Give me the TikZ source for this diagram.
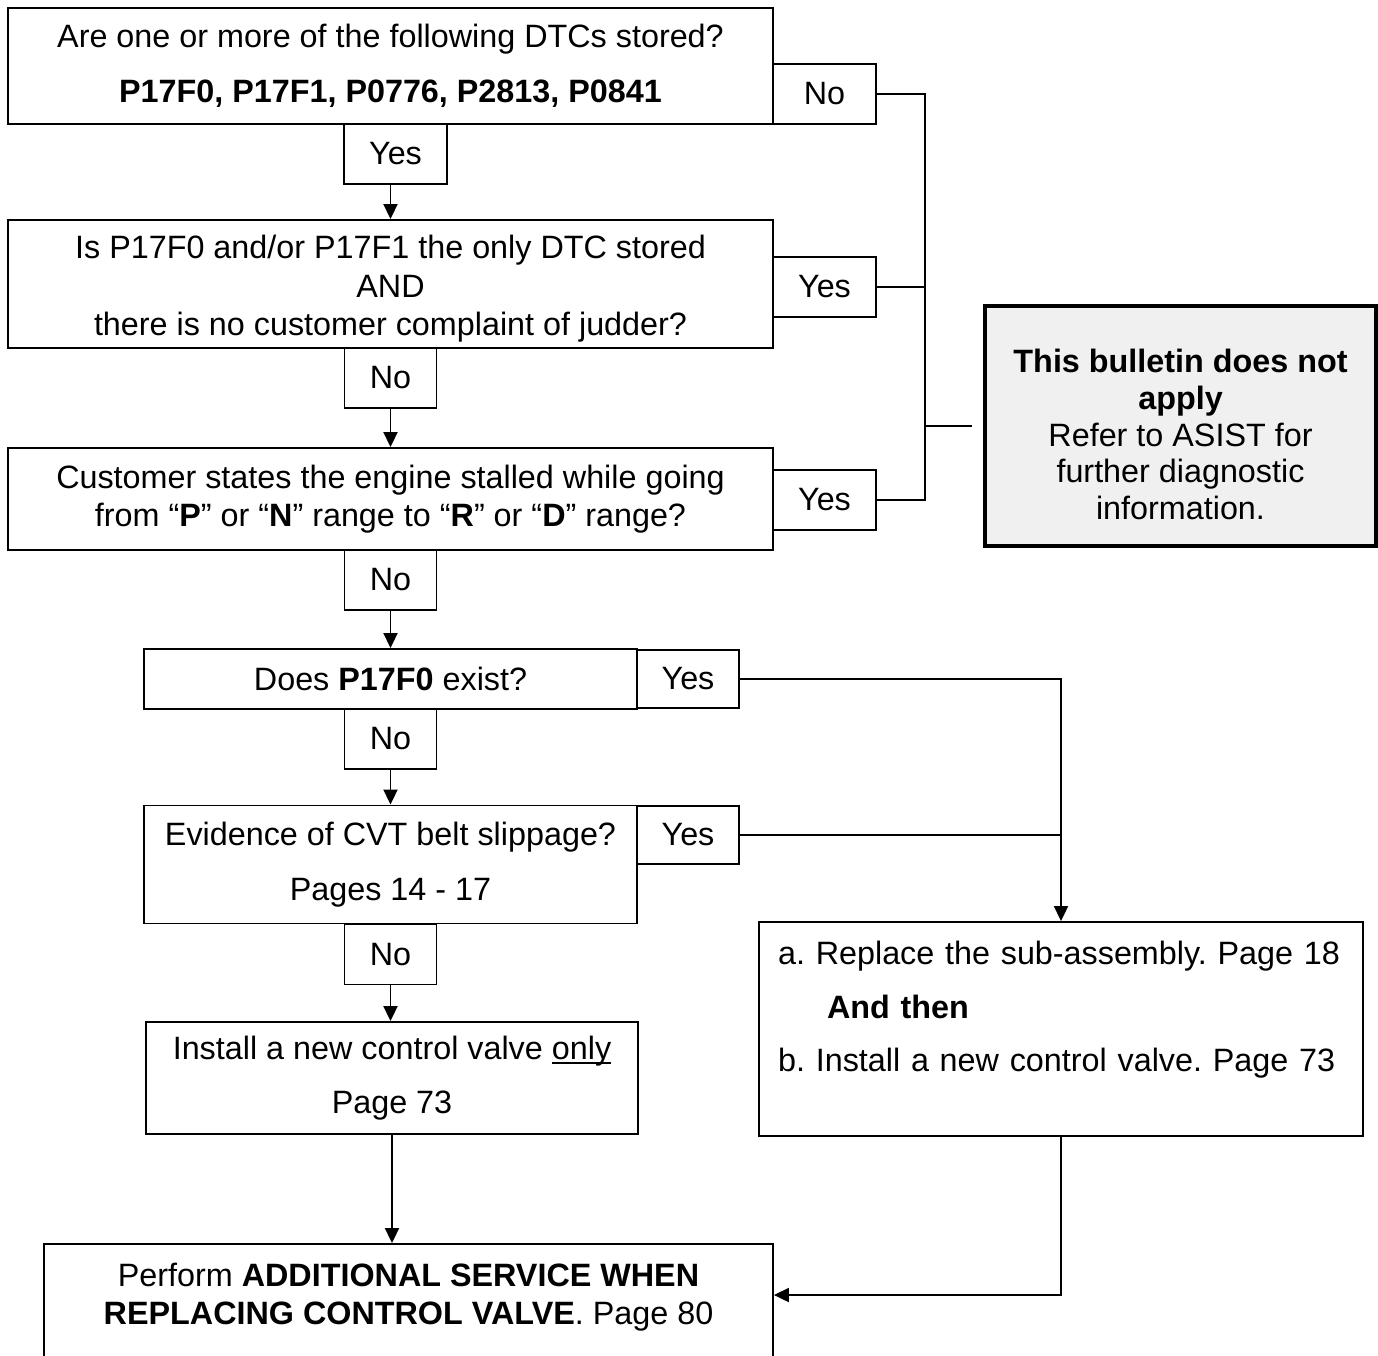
\documentclass[tikz,border=0pt]{standalone}
\usepackage{fontspec}
\setmainfont{Liberation Sans}
\usetikzlibrary{arrows.meta}
\newcommand{\wordline}[1]{\setbox0\hbox{#1}\rlap{\rule[-2.6pt]{\wd0}{0.9pt}}#1}

\begin{document}
\begin{tikzpicture}[
		x=0.02cm, y=-0.02cm,
		line width=1.1pt,
		font=\fontsize{18.4}{22}\selectfont\frenchspacing,
		>={Triangle[length=3mm, width=2.8mm]},
		every node/.style={align=center, inner sep=0pt},
		qbox/.style={draw, minimum width=15.3cm},
		ans/.style={draw, minimum width=2.06cm, minimum height=1.2cm},
		nans/.style={ans, minimum width=1.84cm},
		sans/.style={ans, minimum width=2.04cm, minimum height=1.16cm}
	]
	\useasboundingbox (0,0) rectangle (1378,1355);

	\node[qbox, minimum height=2.32cm] (dtc) at (390.5,66) {Are one or more of the following DTCs stored?\\[0.32cm]\textbf{P17F0, P17F1, P0776, P2813, P0841}};
	\node[ans] (dtcno) at (824.5,94) {No};
	\node[ans] (dtcyes) at (395.5,154) {Yes};
	\node[qbox, minimum height=2.56cm] (only) at (390.5,284) {\rule{0pt}{19pt}Is P17F0 and/or P17F1 the only DTC stored\\AND\\there is no customer complaint of judder?};
	\node[ans] (onlyyes) at (824.5,287) {Yes};
	\node[nans] (onlyno) at (390.5,378) {No};
	\node[qbox, minimum height=2.04cm] (stall) at (390.5,499) {Customer states the engine stalled while going\\from “\textbf{P}” or “\textbf{N}” range to “\textbf{R}” or “\textbf{D}” range?};
	\node[ans] (stallyes) at (824.5,500) {Yes};
	\node[nans] (stallno) at (390.5,580) {No};
	\node[draw, line width=2.2pt, fill=black!6, minimum width=7.82cm, minimum height=4.8cm, font=\fontsize{18.4}{20.8}\selectfont] (notapply) at (1180.5,426) {\rule{0pt}{23pt}\textbf{This bulletin does not}\\\textbf{apply}\\Refer to ASIST for\\further diagnostic\\information.};

	\node[draw, minimum width=9.86cm, minimum height=1.2cm] (exist) at (390.5,679) {Does \textbf{P17F0} exist?};
	\node[sans] (existyes) at (688,679) {Yes};
	\node[nans] (existno) at (390.5,739) {No};
	\node[draw, minimum width=9.86cm, minimum height=2.36cm] (slip) at (390.5,864.5) {Evidence of CVT belt slippage?\\[0.32cm]Pages 14 - 17};
	\node[sans] (slipyes) at (688,835) {Yes};
	\node[nans] (slipno) at (390.5,954.5) {No};
	\node[draw, minimum width=9.84cm, minimum height=2.24cm] (valve) at (392,1078) {Install a new control valve \wordline{only}\\[0.32cm]Page 73};
	\node[draw, minimum width=12.08cm, minimum height=4.28cm, align=left, text width=11.32cm] (replace) at (1061,1029) {\mbox{a. Replace the sub-assembly. Page 18}\\[0.3cm]\hspace*{0.98cm}\textbf{And then}\\[0.3cm]\mbox{b. Install a new control valve. Page 73}\\[-0.1cm]\strut};
	\node[draw, minimum width=14.58cm, minimum height=2.36cm] (service) at (408.5,1303) {Perform \textbf{ADDITIONAL SERVICE WHEN}\\\textbf{REPLACING CONTROL VALVE}. Page 80\\[-0.64cm]\strut};

	\coordinate (bus) at (925,426);
	\coordinate (busend) at (972,426);
	\draw (dtcno.east) -| (bus) |- (stallyes.east);
	\draw (onlyyes.east) -- (onlyyes.east -| bus);
	\draw (bus) -- (busend);

	\draw[->] (dtc.south |- dtcyes.south) -- (only);
	\draw[->] (onlyno) -- (stall);
	\draw[->] (stallno) -- (exist);
	\draw[->] (existno) -- (slip);
	\draw[->] (slipno) -- (slipno |- valve.north);
	\draw[->] (existyes.east) -| (replace.north);
	\draw (slipyes.east) -- (slipyes.east -| replace.north);
	\draw[->] (valve.south) -- (valve.south |- service.north);
	\draw[->] (replace.south) |- (service.east |- 0,1295);
\end{tikzpicture}
\end{document}
